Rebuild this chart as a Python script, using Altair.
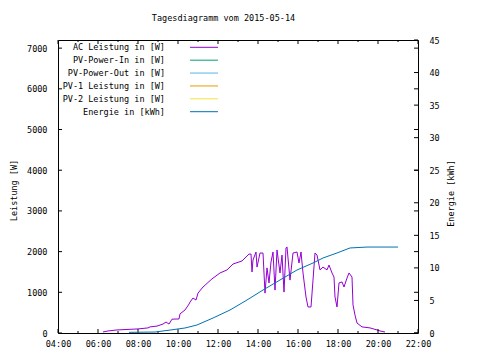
import altair as alt
import pandas as pd

chart_title = ["Tagesdiagramm vom 2015-05-14"]

# AC Leistung [W] over time (hours of day)
ac_hours = [6.25, 6.5, 6.95, 8.0, 8.5, 8.6, 8.95, 9.25, 9.4, 9.55, 9.7, 10.05, 10.1, 10.35, 10.55,
            10.6, 10.75, 10.9, 11.0, 11.25, 11.7, 12.1, 12.45, 12.75, 13.2, 13.55, 13.65, 13.7,
            13.75, 13.9, 13.95, 14.1, 14.25, 14.35, 14.45, 14.55, 14.65, 14.75, 14.85, 14.95,
            15.1, 15.2, 15.3, 15.4, 15.45, 15.6, 15.75, 15.95, 16.05, 16.15, 16.25, 16.4, 16.5,
            16.65, 16.75, 16.85, 16.95, 17.1, 17.25, 17.45, 17.55, 17.7, 17.8, 17.85, 17.95,
            18.05, 18.2, 18.3, 18.45, 18.55, 18.7, 18.75, 18.85, 18.95, 19.2, 19.6, 19.95, 20.1, 20.35]
ac_watts = [25, 50, 75, 100, 125, 150, 170, 220, 270, 220, 340, 345, 470, 565, 710,
            760, 860, 810, 980, 1130, 1330, 1475, 1550, 1695, 1770, 1940, 1940, 1500,
            1795, 1990, 1620, 1965, 1965, 980, 1600, 1230, 1745, 1990, 1055, 2040,
            1475, 1915, 1005, 2090, 2115, 1300, 1965, 1990, 1720, 1990, 1475, 885, 640,
            640, 1300, 1965, 1915, 1550, 1620, 1550, 1670, 1475, 1375, 885, 640,
            1230, 1255, 1130, 1350, 1475, 1375, 690, 440, 245, 150, 125, 75, 50, 25]

# Energie [kWh]
en_hours = [7.55, 8.85, 9.6, 10.35, 10.95, 11.75, 12.6, 13.45, 14.25, 15.1, 15.95, 16.75,
            17.25, 17.95, 18.6, 19.45, 20.1, 21.0]
en_kwh = [0.1, 0.15, 0.45, 0.77, 1.23, 2.3, 3.53, 5.07, 6.6, 8.14, 9.68, 10.75,
          11.52, 12.29, 13.06, 13.2, 13.2, 13.2]

series_names = ["AC Leistung in [W]", "PV-Power-In in [W]", "PV-Power-Out in [W]",
                "PV-1 Leistung in [W]", "PV-2 Leistung in [W]", "Energie in [kWh]"]
series_colors = ["#9400d3", "#009e73", "#56b4e9", "#e69f00", "#f0e442", "#0072b2"]

x_major = [4, 6, 8, 10, 12, 14, 16, 18, 20, 22]
x_minor = [5, 7, 9, 11, 13, 15, 17, 19, 21]
w_ticks = [0, 1000, 2000, 3000, 4000, 5000, 6000, 7000]
e_ticks = [0, 5, 10, 15, 20, 25, 30, 35, 40, 45]

FONT = "DejaVu Sans Mono"
FS = 8.5
W, H = 360, 293

xscale = alt.Scale(domain=[4, 22], nice=False, zero=False)
wscale = alt.Scale(domain=[0, 7200], nice=False)
escale = alt.Scale(domain=[0, 45], nice=False)

x_axis = alt.Axis(values=x_major, labelExpr="(datum.value < 10 ? '0' : '') + datum.value + ':00'",
                  ticks=False, domain=False, grid=False, title=None, labelPadding=6,
                  labelFlush=False, labelOverlap=False)
w_axis = alt.Axis(values=w_ticks, format="d", ticks=False, domain=False, grid=False,
                  title="Leistung [W]", labelPadding=11, titlePadding=8, titleY=150,
                  orient="left", labelFlush=False, labelOverlap=False)
e_axis = alt.Axis(values=e_ticks, format="d", ticks=False, domain=False, grid=False,
                  title="Energie [kWh]", orient="right", labelPadding=11,
                  titlePadding=16, titleAngle=270, titleY=153, labelFlush=False,
                  labelOverlap=False)

ac_df = pd.DataFrame({"h": ac_hours, "w": ac_watts})
ac_line = alt.Chart(ac_df).mark_line(color=series_colors[0], strokeWidth=1).encode(
    x=alt.X("h:Q", scale=xscale, axis=x_axis),
    y=alt.Y("w:Q", scale=wscale, axis=w_axis),
)

wt_df = pd.DataFrame({"w": w_ticks})
w_left = alt.Chart(wt_df).mark_rule(color="black", strokeWidth=1).encode(
    y=alt.Y("w:Q", scale=wscale, axis=w_axis), x=alt.value(0), x2=alt.value(4))
w_right = alt.Chart(wt_df).mark_rule(color="black", strokeWidth=1).encode(
    y=alt.Y("w:Q", scale=wscale, axis=w_axis), x=alt.value(W - 4), x2=alt.value(W))

xm_df = pd.DataFrame({"h": x_major})
xn_df = pd.DataFrame({"h": x_minor})
x_bot_major = alt.Chart(xm_df).mark_rule(color="black", strokeWidth=1).encode(
    x=alt.X("h:Q", scale=xscale, axis=x_axis), y=alt.value(H - 4), y2=alt.value(H))
x_bot_minor = alt.Chart(xn_df).mark_rule(color="black", strokeWidth=1).encode(
    x=alt.X("h:Q", scale=xscale, axis=x_axis), y=alt.value(H - 2), y2=alt.value(H))
x_top_major = alt.Chart(xm_df).mark_rule(color="black", strokeWidth=1).encode(
    x=alt.X("h:Q", scale=xscale, axis=x_axis), y=alt.value(0), y2=alt.value(4))
x_top_minor = alt.Chart(xn_df).mark_rule(color="black", strokeWidth=1).encode(
    x=alt.X("h:Q", scale=xscale, axis=x_axis), y=alt.value(0), y2=alt.value(2))

left_group = alt.layer(ac_line, w_left, w_right, x_bot_major, x_bot_minor, x_top_major, x_top_minor)

en_df = pd.DataFrame({"h": en_hours, "e": en_kwh})
en_line = alt.Chart(en_df).mark_line(color=series_colors[5], strokeWidth=1).encode(
    x=alt.X("h:Q", scale=xscale, axis=x_axis),
    y=alt.Y("e:Q", scale=escale, axis=e_axis),
)
et_df = pd.DataFrame({"e": e_ticks})
e_right = alt.Chart(et_df).mark_rule(color="black", strokeWidth=1).encode(
    y=alt.Y("e:Q", scale=escale, axis=e_axis), x=alt.value(W - 4), x2=alt.value(W))
right_group = alt.layer(en_line, e_right)

leg_df = pd.DataFrame({"name": series_names, "color": series_colors,
                       "row": list(range(len(series_names)))})
leg_scale = alt.Scale(domain=[0, 5], range=[7.3, 71.7])
leg_text = alt.Chart(leg_df).mark_text(align="right", baseline="middle", font=FONT,
                                       fontSize=FS, color="black").encode(
    y=alt.Y("row:Q", scale=leg_scale, axis=None), x=alt.value(107), text="name:N")
leg_line = alt.Chart(leg_df).mark_rule(strokeWidth=1).encode(
    y=alt.Y("row:Q", scale=leg_scale, axis=None), x=alt.value(132), x2=alt.value(160),
    color=alt.Color("color:N", scale=None))

title_df = pd.DataFrame({"t": chart_title})
title_text = alt.Chart(title_df).mark_text(align="center", baseline="alphabetic", font=FONT,
                                           fontSize=FS, color="black").encode(
    x=alt.value(165.5), y=alt.value(-19), text="t:N")
legend_group = alt.layer(leg_text, leg_line, title_text)

chart = alt.layer(left_group, right_group, legend_group).resolve_scale(
    y="independent"
).properties(
    width=W, height=H,
    autosize=alt.AutoSizeParams(type="none"),
    padding={"left": 50, "top": 32, "right": 46, "bottom": 19},
).configure_view(
    stroke="black", strokeWidth=1
).configure_axis(
    labelFont=FONT, labelFontSize=FS, labelColor="black",
    titleFont=FONT, titleFontSize=FS, titleColor="black", titleFontWeight="normal"
)

chart.save("out.html", embed_options={"renderer": "svg", "actions": False})
